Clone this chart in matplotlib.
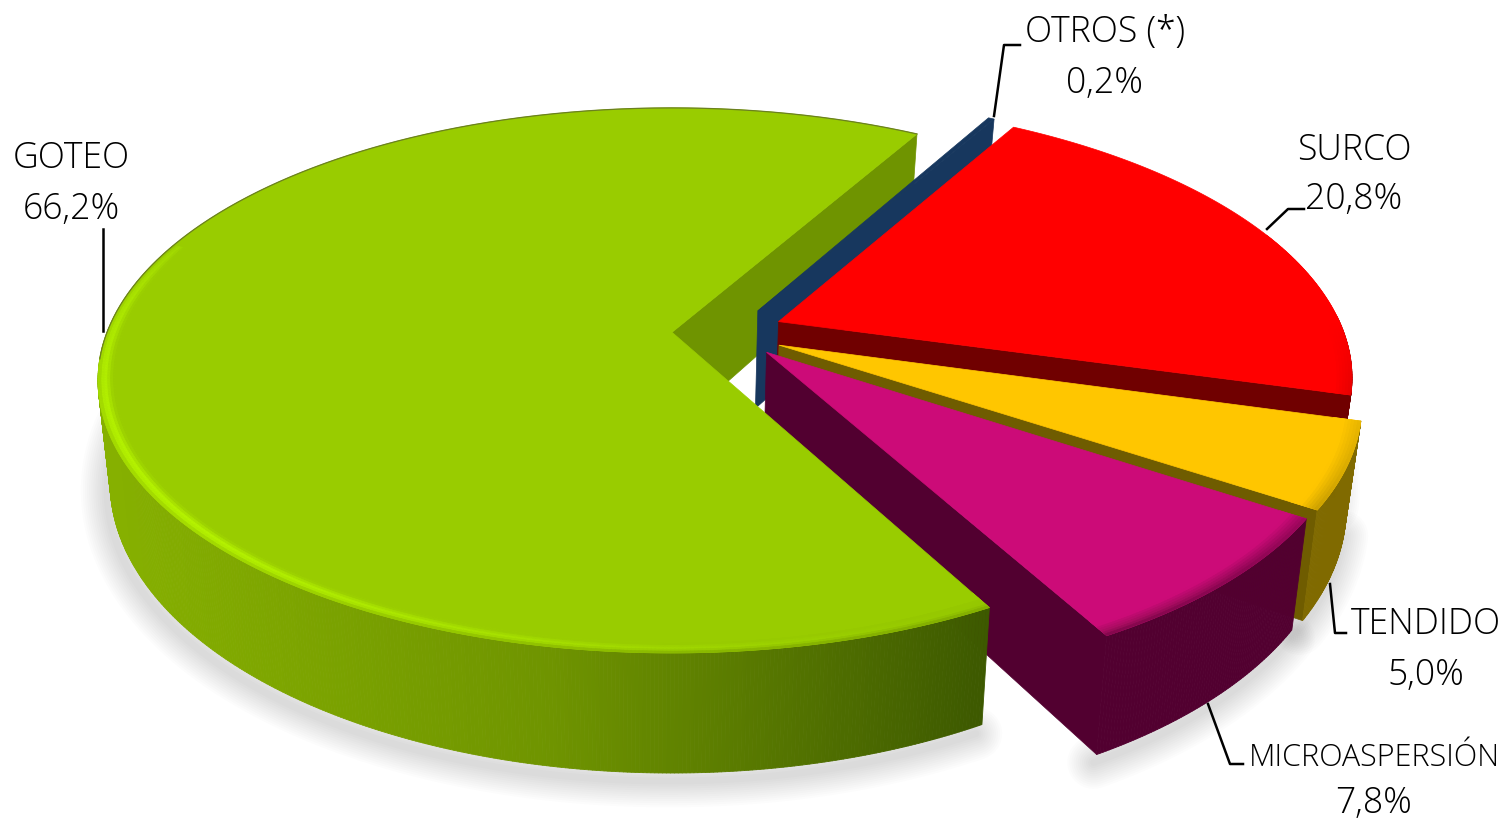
from pathlib import Path

import matplotlib.pyplot as plt
import matplotlib.colors as mcolors
import numpy as np
from matplotlib.collections import PolyCollection
from matplotlib.patches import Polygon

LABELS = ["OTROS (*)", "SURCO", "TENDIDO", "MICROASPERSIÓN", "GOTEO"]
VALUES = [0.2, 20.8, 5.0, 7.8, 66.2]
VALUE_LABELS = ["0,2%", "20,8%", "5,0%", "7,8%", "66,2%"]
TOP_COLORS = ["#17375e", "#ff0000", "#ffc600", "#cc0b78", "#99cc00"]
FACE_COLORS = ["#17375e", "#700000", "#6f5c00", "#520030", "#6f9400"]
WALL_COLORS = [
    ["#17375e", "#17375e"],
    ["#700000", "#700000"],
    ["#806a00", "#806a00"],
    ["#520030", "#520030"],
    ["#86b000", "#6f9400", "#3d5900"],
]
EXPLODE = [0.113, 0.113, 0.113, 0.113, 0.085]
NUDGE = [(0.012, -0.014), (0, 0), (0, 0), (0.004, 0.01), (0, 0)]

START_ANGLE = 60.0
# page position of the disc, perspective and height of the pie
CX, CY, RX, RY, PERSP, DEPTH = 672, 335, 566, 265, 0.177, 99
CENTER_U, CENTER_V = 0.085, 0.009
BOTTOM_SHRINK = 0.022

plt.rcParams["font.family"] = ["Open Sans", "DejaVu Sans"]


def project(u, v, z=0.0):
    u, v = np.asarray(u, dtype=float), np.asarray(v, dtype=float)
    w = 1 + PERSP * v
    x = CX + RX * u / w
    y = CY - RY * v / w + DEPTH * z / w
    return 650 + (x - 650) * (1 - BOTTOM_SHRINK * z), y


def slice_angles():
    t = START_ANGLE
    spans = []
    for value in VALUES:
        spans.append((t - value * 3.6, t))
        t -= value * 3.6
    return spans


def slice_origin(i):
    a0, a1 = slice_angles()[i]
    mid = np.radians((a0 + a1) / 2)
    return (CENTER_U + EXPLODE[i] * np.cos(mid) + NUDGE[i][0],
            CENTER_V + EXPLODE[i] * np.sin(mid) + NUDGE[i][1])


def draw_faces(ax, i, zorder):
    a0, a1 = slice_angles()[i]
    ou, ov = slice_origin(i)
    for ang, normal in ((a0, a0 - 90), (a1, a1 + 90)):
        if np.sin(np.radians(normal)) >= 0:
            continue
        ru = np.array([ou, ou + np.cos(np.radians(ang))])
        rv = np.array([ov, ov + np.sin(np.radians(ang))])
        x0, y0 = project(ru, rv, 0)
        x1, y1 = project(ru, rv, 1)
        pts = np.c_[np.r_[x0, x1[::-1]], np.r_[y0, y1[::-1]]]
        ax.add_patch(Polygon(pts, fc=FACE_COLORS[i], ec=FACE_COLORS[i], lw=0.5, zorder=zorder))


def draw_shadow(ax, i):
    a0, a1 = slice_angles()[i]
    ou, ov = slice_origin(i)
    t = np.radians(np.arange(a0, a1, 0.5))
    t = t[np.sin(t) < 0.05]
    if len(t) < 2:
        return
    x, y = project(ou + np.cos(t), ov + np.sin(t), 1)
    for lw in np.arange(38, 2, -3):
        ax.plot(x - 3, y + 8, color="black", lw=lw, alpha=0.011, solid_capstyle="round", zorder=1)


def draw_body(ax, i, zorder):
    a0, a1 = slice_angles()[i]
    top, wall = TOP_COLORS[i], WALL_COLORS[i]
    ou, ov = slice_origin(i)
    t = np.radians(np.linspace(a0, a1, max(int((a1 - a0) * 3), 8)))
    u, v = ou + np.cos(t), ov + np.sin(t)

    x0, y0 = project(u, v, 0)
    x1, y1 = project(u, v, 1)
    cmap = mcolors.LinearSegmentedColormap.from_list("wall", wall)
    quads, colors = [], []
    for k in range(len(t) - 1):
        if np.sin(t[k]) > 0.02:
            continue
        quads.append([(x0[k], y0[k]), (x0[k + 1], y0[k + 1]), (x1[k + 1], y1[k + 1]), (x1[k], y1[k])])
        colors.append(cmap(np.clip((x0[k] - 110) / 880, 0, 1)))
    if quads:
        ax.add_collection(PolyCollection(quads, facecolors=colors, edgecolors=colors, linewidths=0.6, zorder=zorder))

    xt, yt = project(np.r_[ou, u], np.r_[ov, v], 0)
    ax.add_patch(Polygon(np.c_[xt, yt], fc=top, ec=top, lw=0.5, zorder=zorder + 0.1))

    # soft bevel along the rim
    top_rgb = np.array(mcolors.to_rgb(top))
    wall_rgb = np.array(mcolors.to_rgb(wall[len(wall) // 2]))
    hi_rgb = np.clip(top_rgb * 1.12 + np.array([0.04, 0.06, 0.0]), 0, 1)
    rings = np.linspace(0.955, 1.0, 10)
    quads, colors = [], []
    for r0, r1 in zip(rings[:-1], rings[1:]):
        rm = (r0 + r1) / 2
        bump = np.exp(-((rm - 0.989) / 0.009) ** 2)
        edge = np.clip((rm - 0.972) / 0.028, 0, 1)
        for k in range(len(t) - 1):
            if np.sin(t[k]) > 0.35:
                continue
            lit = np.clip(np.cos(t[k] - np.radians(225)), 0, 1) ** 0.7
            dark = np.clip(-np.sin(t[k]) * np.cos(t[k] + np.radians(50)), 0, 1)
            color = top_rgb + (hi_rgb - top_rgb) * lit * bump + (wall_rgb - top_rgb) * dark * edge * 0.8
            pu = ou + np.array([r0 * np.cos(t[k]), r0 * np.cos(t[k + 1]), r1 * np.cos(t[k + 1]), r1 * np.cos(t[k])])
            pv = ov + np.array([r0 * np.sin(t[k]), r0 * np.sin(t[k + 1]), r1 * np.sin(t[k + 1]), r1 * np.sin(t[k])])
            px, py = project(pu, pv, 0)
            quads.append(np.c_[px, py])
            colors.append(np.clip(color, 0, 1))
    if quads:
        ax.add_collection(PolyCollection(quads, facecolors=colors, edgecolors=colors, linewidths=0.4, zorder=zorder + 0.2))

    # thin outline on the back of goteo only
    if LABELS[i] == "GOTEO":
        back = np.sin(t) > -0.1
        ax.plot(x0[back], y0[back], color="#6b8020", lw=0.9, zorder=zorder + 0.3)


def plot_chart():
    fig = plt.figure(figsize=(15.11, 8.21), dpi=100)
    ax = fig.add_axes([0, 0, 1, 1])
    ax.set_xlim(0, 1511)
    ax.set_ylim(821, 0)
    ax.axis("off")

    for i in range(len(VALUES)):
        draw_shadow(ax, i)

    # goteo's cut face sits behind everything, its top and rim in front
    draw_faces(ax, 4, 2)
    for i in range(4):
        draw_faces(ax, i, 3 + i)
        draw_body(ax, i, 3 + i + 0.1)
    draw_body(ax, 4, 8)

    positions = [(1105, 33), (1354, 150), (1426, 625), (1374, 758), (71, 159)]
    value_gaps = [50, 50, 50, 46, 50]
    for label, value, (x, y), gap in zip(LABELS, VALUE_LABELS, positions, value_gaps):
        size = 22 if label == "MICROASPERSIÓN" else 25.6
        ax.text(x, y, label, ha="center", va="center", fontsize=size, fontweight="light", zorder=20)
        ax.text(x, y + gap, value, ha="center", va="center", fontsize=25.6, fontweight="light", zorder=20)

    leaders = [
        [(994, 116), (1004, 45), (1020, 45)],
        [(1267, 229), (1288, 209), (1304, 209)],
        [(1330, 584), (1335, 633), (1346, 633)],
        [(1208, 704), (1230, 764), (1243, 764)],
        [(103, 331), (103, 229)],
    ]
    for line in leaders:
        xs, ys = zip(*line)
        ax.plot(xs, ys, color="black", lw=1.8, zorder=20)

    fig.savefig(Path("out.png"), dpi=100)
    plt.close(fig)


if __name__ == "__main__":
    plot_chart()
